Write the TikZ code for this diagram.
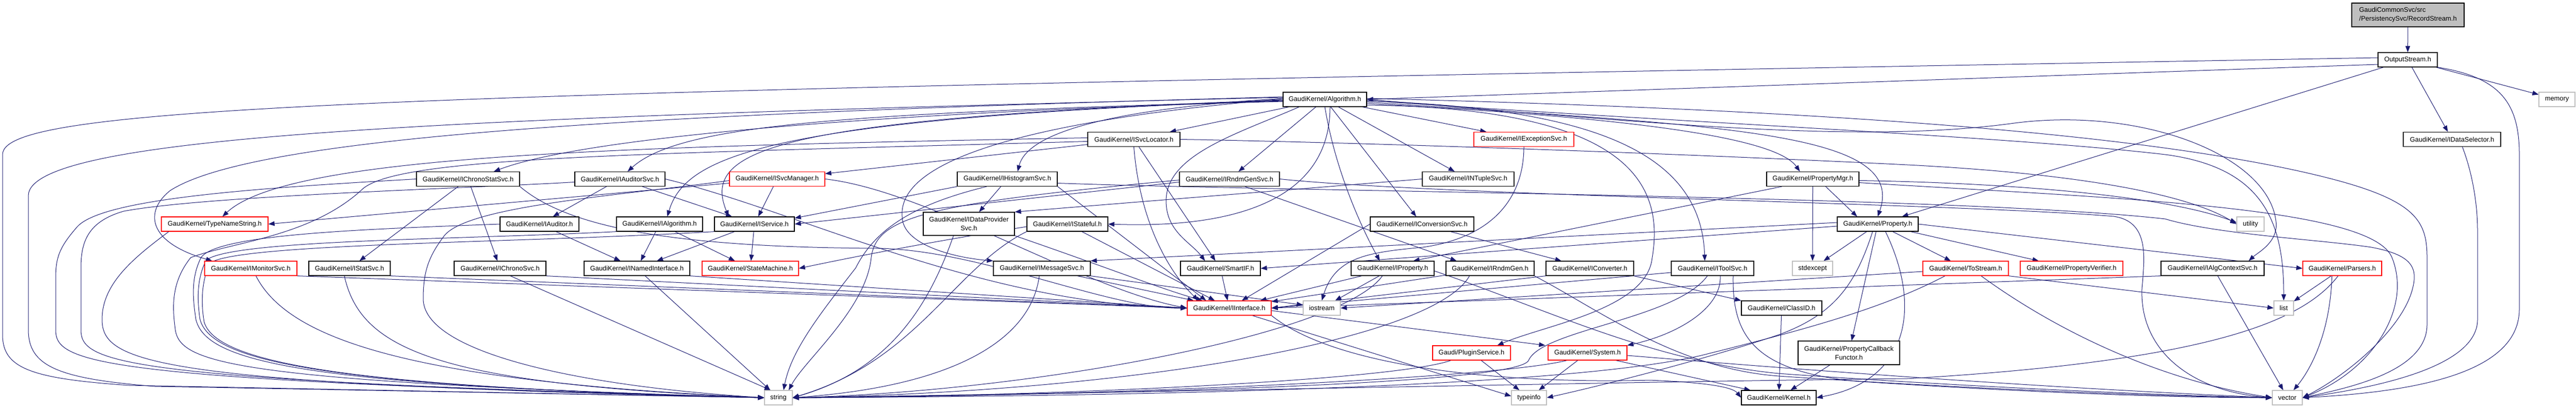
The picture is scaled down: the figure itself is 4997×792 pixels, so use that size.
\documentclass[tikz,border=0pt]{standalone}
\usepackage{fontspec}
\setmainfont{Liberation Sans}
\usetikzlibrary{arrows.meta,calc}
\definecolor{edgec}{HTML}{191970}
\definecolor{extgray}{HTML}{BFBFBF}
\definecolor{rootgray}{HTML}{BFBFBF}
\pgfdeclarelayer{edges}
\pgfsetlayers{edges,main}
\tikzset{
  e/.style={draw=edgec, line width=1pt, -{Triangle[length=12pt,width=9pt]}},
  box/.style={draw=black, line width=1.2pt, fill=white, minimum height=28pt, inner sep=0pt, text=black,
    font=\fontsize{12.9pt}{17pt}\selectfont},
  trunc/.style={box, draw=red},
  ext/.style={box, draw=extgray},
}
\begin{document}
\begin{tikzpicture}[x=1pt,y=1pt]
\useasboundingbox (0,0) rectangle (4997,-792);
% rank 0-3
\node[box, minimum width=218pt, minimum height=46pt, fill=rootgray, align=left] (root) at (4671,-29) {GaudiCommonSvc/src\\/PersistencySvc/RecordStream.h};
\node[box, minimum width=115pt] (OS) at (4670.5,-116) {OutputStream.h};
\node[ext, minimum width=70pt] (memory) at (4960,-193) {memory};
\node[box, minimum width=162pt] (Alg) at (2570,-193) {GaudiKernel/Algorithm.h};
\node[box, minimum width=179pt] (SvcLoc) at (2199.5,-270.5) {GaudiKernel/ISvcLocator.h};
\node[trunc, minimum width=194pt] (ExcSvc) at (2956,-270.5) {GaudiKernel/IExceptionSvc.h};
\node[box, minimum width=189pt] (DataSel) at (4756.5,-270.5) {GaudiKernel/IDataSelector.h};
% rank 4
\node[box, minimum width=200pt] (ChronoStat) at (908,-347.5) {GaudiKernel/IChronoStatSvc.h};
\node[box, minimum width=175pt] (AudSvc) at (1202.5,-347.5) {GaudiKernel/IAuditorSvc.h};
\node[trunc, minimum width=185pt] (SvcMgr) at (1507.5,-347.5) {GaudiKernel/ISvcManager.h};
\node[box, minimum width=194pt] (HistSvc) at (1954,-347.5) {GaudiKernel/IHistogramSvc.h};
\node[box, minimum width=194pt] (RndmSvc) at (2385,-347.5) {GaudiKernel/IRndmGenSvc.h};
\node[box, minimum width=178pt] (NTuple) at (2848,-347.5) {GaudiKernel/INTupleSvc.h};
\node[box, minimum width=179pt] (PropMgr) at (3516.5,-347.5) {GaudiKernel/PropertyMgr.h};
% rank 5
\node[trunc, minimum width=207pt] (TNS) at (416.5,-435) {GaudiKernel/TypeNameString.h};
\node[box, minimum width=153pt] (Aud) at (1046.5,-435) {GaudiKernel/IAuditor.h};
\node[box, minimum width=167pt] (IAlg) at (1279.5,-435) {GaudiKernel/IAlgorithm.h};
\node[box, minimum width=155pt] (Svc) at (1463.5,-435) {GaudiKernel/IService.h};
\node[box, minimum width=177pt, minimum height=45pt, align=center] (DPS) at (1879.5,-434.5) {GaudiKernel/IDataProvider\\Svc.h};
\node[box, minimum width=157pt] (Stateful) at (2070.5,-435) {GaudiKernel/IStateful.h};
\node[box, minimum width=201pt] (ConvSvc) at (2758.5,-435) {GaudiKernel/IConversionSvc.h};
\node[box, minimum width=157pt] (Prop) at (3642.5,-435) {GaudiKernel/Property.h};
\node[ext, minimum width=53pt] (utility) at (4365.5,-435) {utility};
% rank 6
\node[trunc, minimum width=179pt] (Mon) at (486.5,-521) {GaudiKernel/IMonitorSvc.h};
\node[box, minimum width=158pt] (Stat) at (678,-521) {GaudiKernel/IStatSvc.h};
\node[box, minimum width=178pt] (Chrono) at (970,-521) {GaudiKernel/IChronoSvc.h};
\node[box, minimum width=205pt] (NI) at (1235.5,-521) {GaudiKernel/INamedInterface.h};
\node[trunc, minimum width=187pt] (SM) at (1455.5,-521) {GaudiKernel/StateMachine.h};
\node[box, minimum width=188pt] (Msg) at (2021,-521) {GaudiKernel/IMessageSvc.h};
\node[box, minimum width=155pt] (SIF) at (2367.5,-521) {GaudiKernel/SmartIF.h};
\node[box, minimum width=161pt] (IProp) at (2701.5,-521) {GaudiKernel/IProperty.h};
\node[box, minimum width=171pt] (Rndm) at (2890.5,-521) {GaudiKernel/IRndmGen.h};
\node[box, minimum width=170pt] (Conv) at (3084,-521) {GaudiKernel/IConverter.h};
\node[box, minimum width=160pt] (Tool) at (3322,-521) {GaudiKernel/IToolSvc.h};
\node[ext, minimum width=78pt] (stdexcept) at (3516,-521) {stdexcept};
\node[trunc, minimum width=166pt] (ToS) at (3813,-521) {GaudiKernel/ToStream.h};
\node[trunc, minimum width=199pt] (PV) at (4018.5,-521) {GaudiKernel/PropertyVerifier.h};
\node[box, minimum width=200pt] (Ctx) at (4292,-521) {GaudiKernel/IAlgContextSvc.h};
\node[trunc, minimum width=153pt] (Parsers) at (4543.5,-521) {GaudiKernel/Parsers.h};
% rank 7
\node[trunc, minimum width=163pt] (IIf) at (2384.5,-598) {GaudiKernel/IInterface.h};
\node[ext, minimum width=72pt] (iostream) at (2564,-598) {iostream};
\node[box, minimum width=156pt] (ClassID) at (3456,-598) {GaudiKernel/ClassID.h};
\node[ext, minimum width=38pt] (list) at (4430,-598) {list};
% rank 8
\node[trunc, minimum width=151pt] (Plugin) at (2854.5,-685) {Gaudi/PluginService.h};
\node[trunc, minimum width=153pt] (System) at (3079.5,-685) {GaudiKernel/System.h};
\node[box, minimum width=197pt, minimum height=46pt, align=center] (PCF) at (3586.5,-685) {GaudiKernel/PropertyCallback\\Functor.h};
% rank 9
\node[ext, minimum width=54pt] (string) at (1510,-772) {string};
\node[ext, minimum width=68pt] (typeinfo) at (2966,-772) {typeinfo};
\node[box, minimum width=145pt] (Kernel) at (3450.5,-772) {GaudiKernel/Kernel.h};
\node[ext, minimum width=58pt] (vector) at (4437,-772) {vector};

\begin{pgfonlayer}{edges}
% root / OutputStream
\draw[e] (root) -- (OS);
\draw[e] ([yshift=-9pt]OS.west) -- (Alg.east);
\draw[e] (OS) -- (DataSel);
\draw[e] (OS) -- (memory);
\draw[e] (OS) -- (Prop);
\draw[e] ([yshift=4pt]OS.west) .. controls (800,-180) and (5,-200) .. (5,-300) -- (5,-650) .. controls (5,-715) and (60,-735) .. (250,-748) -- (string.west);
\draw[e] (OS.south east) .. controls (4850,-150) and (4887,-200) .. (4887,-300) -- (4887,-600) .. controls (4887,-720) and (4700,-760) .. (vector.east);
% Algorithm
\draw[e] ([yshift=4pt]Alg.west) .. controls (900,-228) and (55,-260) .. (55,-380) -- (55,-640) .. controls (55,-710) and (110,-735) .. (300,-750) -- (string.west);
\draw[e] ([yshift=2pt]Alg.east) .. controls (3500,-212) and (4100,-255) .. (4450,-330) .. controls (4680,-380) and (4708,-420) .. (4708,-500) -- (4708,-630) .. controls (4708,-720) and (4560,-752) .. (vector.east);
\draw[e] ([yshift=-2pt]Alg.east) .. controls (3300,-240) and (3900,-265) .. (4200,-300) .. controls (4390,-325) and (4430,-430) .. (list.north);
\draw[e] (Alg.east) .. controls (3200,-238) and (3600,-280) .. (3900,-240) .. controls (4150,-205) and (4400,-300) .. (4415,-430) .. controls (4420,-470) and (4380,-490) .. ([xshift=70pt]Ctx.north);
\draw[e] ([yshift=-5pt]Alg.east) .. controls (3350,-245) and (3700,-255) .. (Prop.north);
\draw[e] ([yshift=-8pt]Alg.east) .. controls (3100,-225) and (3440,-260) .. ([xshift=-25pt]PropMgr.north);
\draw[e] ([yshift=-3pt]Alg.east) .. controls (3100,-210) and (3300,-300) .. ([xshift=-15pt]Tool.north);
\draw[e] ([yshift=-11pt]Alg.east) .. controls (3150,-210) and (3230,-350) .. (3205,-500) .. controls (3195,-600) and (3000,-630) .. ([xshift=50pt]Plugin.north);
\draw[e] (Alg) -- (ExcSvc);
\draw[e] (Alg) -- (NTuple);
\draw[e] (Alg) -- (ConvSvc);
\draw[e] (Alg.south) .. controls (2590,-330) and (2640,-440) .. ([xshift=-25pt]IProp.north);
\draw[e] (Alg) -- (RndmSvc);
\draw[e] (Alg) -- (SvcLoc);
\draw[e] ([xshift=10pt]Alg.south) .. controls (2580,-430) and (2300,-440) .. (Stateful.east);
\draw[e] ([xshift=-50pt]Alg.south) .. controls (2400,-260) and (2262,-300) .. (2262,-390) .. controls (2262,-450) and (2310,-470) .. ([xshift=-30pt]SIF.north);
\draw[e] ([yshift=2pt]Alg.west) .. controls (2100,-215) and (1990,-270) .. ([xshift=20pt]HistSvc.north);
\draw[e] ([yshift=1pt]Alg.west) .. controls (2100,-225) and (1740,-290) .. (1750,-420) .. controls (1750,-475) and (1850,-500) .. (Msg.north west);
\draw[e] ([yshift=-1pt]Alg.west) .. controls (1500,-230) and (1360,-290) .. ([xshift=-50pt]Svc.north);
\draw[e] ([yshift=-2pt]Alg.west) .. controls (1500,-230) and (1330,-300) .. ([xshift=15pt]IAlg.north);
\draw[e] ([yshift=-3pt]Alg.west) .. controls (1650,-220) and (1320,-240) .. ([xshift=15pt]AudSvc.north);
\draw[e] ([yshift=-4pt]Alg.west) .. controls (1800,-215) and (1150,-260) .. ([xshift=50pt]ChronoStat.north);
\draw[e] ([yshift=5pt]Alg.west) .. controls (1300,-220) and (500,-260) .. (330,-370) .. controls (280,-410) and (285,-470) .. ([xshift=-75pt]Mon.north);
% ISvcLocator
\draw[e] (SvcLoc) -- (SvcMgr);
\draw[e] ([yshift=3pt]SvcLoc.west) .. controls (1200,-285) and (560,-300) .. ([xshift=15pt]TNS.north);
\draw[e] ([yshift=-4pt]SvcLoc.west) .. controls (1200,-300) and (760,-305) .. (700,-370) .. controls (600,-460) and (450,-470) .. (370,-500) .. controls (330,-550) and (335,-600) .. (340,-640) .. controls (350,-705) and (450,-740) .. (string.west);
\draw[e] (SvcLoc) -- (SIF);
\draw[e] (SvcLoc.south) .. controls (2210,-420) and (2260,-520) .. ([xshift=-60pt]IIf.north);
\draw[e] (SvcLoc.east) .. controls (2700,-278) and (3300,-300) .. (3700,-320) .. controls (4050,-338) and (4250,-380) .. (utility.west);
% IExceptionSvc, IDataSelector
\draw[e] (ExcSvc.south) .. controls (2956,-380) and (2900,-460) .. (2760,-480) .. controls (2650,-490) and (2590,-500) .. (iostream.north);
\draw[e] ([xshift=20pt]DataSel.south) .. controls (4790,-320) and (4806,-380) .. (4806,-450) -- (4806,-620) .. controls (4806,-705) and (4640,-748) .. (vector.east);
% IChronoStatSvc
\draw[e] (ChronoStat) -- (Stat);
\draw[e] (ChronoStat) -- (Chrono);
\draw[e] (ChronoStat.west) .. controls (500,-365) and (200,-385) .. (150,-440) .. controls (115,-480) and (108,-500) .. (108,-540) -- (108,-640) .. controls (108,-705) and (180,-738) .. (string.west);
\draw[e] (ChronoStat.south east) .. controls (1100,-440) and (1300,-480) .. (1700,-482) .. controls (1900,-484) and (2150,-600) .. (IIf.west);
% IAuditorSvc
\draw[e] (AudSvc) -- (Aud);
\draw[e] (AudSvc) -- (Svc);
\draw[e] ([yshift=-6pt]AudSvc.west) .. controls (900,-366) and (400,-380) .. (240,-410) .. controls (170,-430) and (157,-470) .. (157,-520) -- (157,-640) .. controls (157,-705) and (230,-738) .. (string.west);
\draw[e] (AudSvc.east) .. controls (1550,-410) and (1900,-590) .. (IIf.west);
% ISvcManager
\draw[e] (SvcMgr) -- (Svc);
\draw[e] ([yshift=-8pt]SvcMgr.west) -- (TNS.east);
\draw[e] ([yshift=-3pt]SvcMgr.west) .. controls (1200,-380) and (900,-400) .. (860,-460) .. controls (830,-500) and (821,-530) .. (821,-580) .. controls (821,-680) and (1100,-748) .. (string.west);
\draw[e] (SvcMgr.east) .. controls (1800,-370) and (2100,-560) .. (IIf.west);
% IHistogramSvc
\draw[e] (HistSvc) -- (DPS);
\draw[e] (HistSvc.south west) -- ([yshift=-3pt]Svc.north east);
\draw[e] ([xshift=-40pt]HistSvc.south) .. controls (1780,-395) and (1700,-440) .. (1660,-520) .. controls (1590,-610) and (1535,-680) .. ([xshift=10pt]string.north);
\draw[e] (HistSvc.south east) -- ([xshift=-45pt]IIf.north);
\draw[e] ([yshift=-8pt]HistSvc.east) .. controls (2500,-372) and (3800,-380) .. (4200,-425) .. controls (4300,-455) and (4500,-465) .. (4600,-480) .. controls (4680,-495) and (4690,-520) .. (4680,-560) .. controls (4660,-640) and (4550,-730) .. (vector.east);
% IRndmGenSvc
\draw[e] ([xshift=30pt]RndmSvc.south) -- ([xshift=-65pt]Rndm.north);
\draw[e] ([yshift=-6pt]RndmSvc.west) -- (Svc.east);
\draw[e] ([yshift=-2pt]RndmSvc.west) .. controls (1800,-395) and (1700,-420) .. (1690,-500) .. controls (1680,-600) and (1560,-700) .. ([xshift=20pt]string.north);
\draw[e] (RndmSvc.east) .. controls (2800,-380) and (3800,-395) .. (4100,-420) .. controls (4170,-430) and (4160,-500) .. (4155,-560) .. controls (4150,-680) and (4250,-760) .. (vector.west);
% INTupleSvc
\draw[e] (NTuple.west) -- (DPS.north east);
% PropertyMgr
\draw[e] ([xshift=25pt]PropMgr.south) -- ([xshift=-40pt]Prop.north);
\draw[e] ([xshift=-60pt]PropMgr.south) -- ([xshift=40pt]IProp.north);
\draw[e] (PropMgr.south) -- (stdexcept.north);
\draw[e] ([yshift=-3pt]PropMgr.east) .. controls (3900,-355) and (4200,-380) .. ([yshift=3pt]utility.west);
\draw[e] ([yshift=-7pt]PropMgr.east) .. controls (4100,-385) and (4600,-400) .. (4640,-500) .. controls (4680,-600) and (4600,-720) .. (vector.east);
% rank 5 sources
\draw[e] ([xshift=15pt]TNS.south west) .. controls (260,-500) and (198,-550) .. (198,-620) .. controls (198,-705) and (300,-745) .. (string.west);
\draw[e] (Aud) -- (NI);
\draw[e] (Aud.west) .. controls (700,-445) and (420,-455) .. (390,-500) .. controls (370,-540) and (374,-580) .. (380,-620) .. controls (400,-705) and (600,-748) .. (string.west);
\draw[e] (IAlg) -- (NI);
\draw[e] (IAlg) -- (SM);
\draw[e] (IAlg.south west) .. controls (900,-465) and (450,-465) .. (400,-505) .. controls (382,-540) and (382,-580) .. (388,-620) .. controls (410,-705) and (650,-750) .. (string.west);
\draw[e] (Svc) -- (NI);
\draw[e] (Svc) -- (SM);
\draw[e] (Svc.south west) .. controls (1000,-472) and (470,-472) .. (408,-510) .. controls (390,-545) and (390,-590) .. (396,-625) .. controls (420,-708) and (700,-752) .. (string.west);
\draw[e] (DPS.south east) .. controls (2150,-520) and (2250,-560) .. ([xshift=-52pt]IIf.north);
\draw[e] ([xshift=-30pt]DPS.south) .. controls (1800,-600) and (1720,-720) .. (string.east);
\draw[e] (Stateful) -- (IIf);
\draw[e] ([yshift=-5pt]Stateful.west) .. controls (1800,-470) and (1650,-500) .. (SM.east);
\draw[e] (Stateful.south west) .. controls (1850,-520) and (1780,-700) .. (string.east);
\draw[e] (ConvSvc) -- (Conv);
\draw[e] (ConvSvc.west) -- (IIf);
% Property
\draw[e] ([xshift=15pt]Prop.south) .. controls (3730,-600) and (3700,-740) .. (Kernel.east);
\draw[e] (Prop) -- (PCF);
\draw[e] (Prop) -- (stdexcept);
\draw[e] (Prop) -- (ToS);
\draw[e] (Prop) -- (PV);
\draw[e] (Prop.east) -- (Parsers.west);
\draw[e] ([xshift=-10pt]Prop.south) .. controls (3600,-550) and (3560,-610) .. (3450,-650) .. controls (3300,-700) and (3100,-750) .. (typeinfo.east);
\draw[e] ([yshift=3pt]Prop.west) -- (Msg.north east);
\draw[e] ([yshift=-4pt]Prop.west) -- (SIF.east);
% rank 6 sources
\draw[e] (Mon.south east) -- (IIf.west);
\draw[e] ([xshift=10pt]Mon.south) .. controls (560,-660) and (800,-740) .. (string.west);
\draw[e] (Stat.south east) -- (IIf.west);
\draw[e] ([xshift=-10pt]Stat.south) .. controls (700,-680) and (850,-745) .. (string.west);
\draw[e] ([xshift=20pt]Chrono.south) -- ([xshift=-15pt]string.north);
\draw[e] (Chrono.south east) -- (IIf.west);
\draw[e] (NI.south east) -- (IIf.west);
\draw[e] (NI) -- (string);
\draw[e] (Msg) -- (IIf);
\draw[e] (Msg.south east) -- ([yshift=6pt]iostream.west);
\draw[e] ([xshift=-5pt]Msg.south) .. controls (2000,-660) and (1850,-750) .. (string.east);
\draw[e] (SIF) -- (IIf);
\draw[e] (IProp) -- (IIf);
\draw[e] (IProp) -- (iostream);
\draw[e] ([xshift=-20pt]IProp.south) .. controls (2600,-650) and (2000,-760) .. (string.east);
\draw[e] ([yshift=-5pt]IProp.east) .. controls (3000,-600) and (3200,-700) .. (3450,-725) .. controls (3800,-750) and (4200,-768) .. (vector.west);
\draw[e] (Rndm) -- (IIf);
\draw[e] ([xshift=-40pt]Rndm.south) .. controls (2780,-660) and (2200,-760) .. (string.east);
\draw[e] (Rndm.south east) .. controls (3100,-600) and (3250,-715) .. (3450,-730) .. controls (3800,-754) and (4200,-770) .. (vector.west);
\draw[e] (Conv.south west) -- (IIf.east);
\draw[e] (Conv.south east) -- (ClassID.north west);
\draw[e] ([yshift=-8pt]Tool.west) -- (IIf.east);
\draw[e] ([xshift=15pt]Tool.south) .. controls (3340,-600) and (3250,-650) .. (System.north east);
\draw[e] ([xshift=-10pt]Tool.south) .. controls (3250,-620) and (2990,-640) .. (2965,-700) .. controls (2940,-745) and (2200,-765) .. (string.east);
\draw[e] ([xshift=40pt]Tool.south) .. controls (3360,-650) and (3400,-720) .. (3600,-740) .. controls (3900,-760) and (4200,-772) .. (vector.west);
\draw[e] ([yshift=-6pt]ToS.west) -- (iostream.east);
\draw[e] ([xshift=-40pt]ToS.south) .. controls (3650,-600) and (3500,-640) .. (3300,-690) .. controls (3000,-760) and (2000,-770) .. (string.east);
\draw[e] ([xshift=30pt]ToS.south) .. controls (4000,-650) and (4200,-740) .. (vector.west);
\draw[e] (ToS.south east) -- (list.west);
\draw[e] (Ctx.south west) -- (IIf.east);
\draw[e] ([xshift=10pt]Ctx.south) -- ([xshift=-8pt]vector.north);
\draw[e] (Parsers) -- (list);
\draw[e] ([xshift=-8pt]Parsers.south) .. controls (4470,-620) and (4300,-700) .. (3700,-735) .. controls (3200,-740) and (2200,-762) .. (string.east);
\draw[e] ([xshift=-20pt]Parsers.south) .. controls (4520,-650) and (4480,-720) .. ([xshift=12pt]vector.north);
% rank 7-8 sources
\draw[e] ([yshift=-5pt]IIf.east) -- ([xshift=-5pt]System.north west);
\draw[e] ([xshift=45pt]IIf.south) -- ([yshift=3pt]typeinfo.west);
\draw[e] (IIf.south east) .. controls (2600,-720) and (2950,-745) .. (3200,-738) .. controls (3300,-742) and (3360,-750) .. (Kernel.west);
\draw[e] ([xshift=-40pt]Plugin.south) .. controls (2700,-740) and (2000,-770) .. (string.east);
\draw[e] (Plugin) -- (typeinfo);
\draw[e] ([xshift=-40pt]System.south) .. controls (2900,-735) and (2100,-770) .. (string.east);
\draw[e] (System) -- (typeinfo);
\draw[e] ([xshift=55pt]System.south) -- ([xshift=-55pt]Kernel.north);
\draw[e] ([yshift=-5pt]System.east) .. controls (3400,-710) and (3900,-750) .. (vector.west);
\draw[e] (ClassID) -- (Kernel);
\draw[e] (PCF) -- (Kernel);
\end{pgfonlayer}
\end{tikzpicture}
\end{document}
